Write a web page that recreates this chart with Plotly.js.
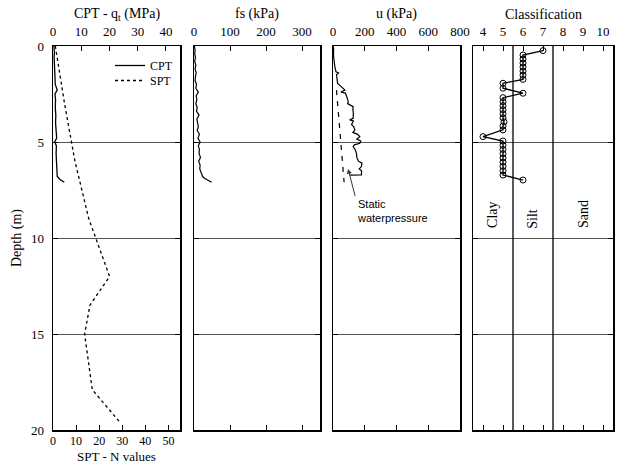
<!DOCTYPE html>
<html>
<head>
<meta charset="utf-8">
<script src="https://cdn.plot.ly/plotly-3.0.1.min.js"></script>
<style>html,body{margin:0;padding:0;background:#fff}#chart{width:618px;height:463px}</style>
</head>
<body>
<div id="chart"></div>
<script>
// ---- data ----
const cptDepth = [0.0,0.3,0.6,1.0,1.3,1.6,2.0,2.3,2.5,2.8,3.2,3.6,4.0,4.4,4.8,5.0,5.2,5.6,6.0,6.4,6.8,6.95,7.05,7.1];
const cptQt    = [0.3,0.5,0.4,0.6,0.5,0.7,0.8,1.5,0.7,0.9,0.8,1.0,0.9,1.1,1.3,0.6,1.2,1.1,1.2,1.3,1.5,2.5,3.6,4.0];

const sptDepth = [0.0,3.0,6.0,9.0,12.0,13.5,15.0,16.5,17.9,19.6];
const sptN     = [1.0,5.0,9.5,15.5,24.5,16.0,13.7,15.5,17.0,29.0];

const fsDepth = [0.0,0.2,0.4,0.6,0.8,1.0,1.2,1.4,1.6,1.8,2.0,2.2,2.4,2.6,2.8,3.0,3.2,3.4,3.6,3.8,4.0,4.2,4.4,4.6,4.8,5.0,5.2,5.4,5.6,5.8,6.0,6.2,6.4,6.6,6.8,6.9,7.0,7.1];
const fsVal   = [1,3,2,4,2,5,3,6,4,3,7,5,12,6,8,5,9,7,14,8,10,12,9,15,11,17,12,15,14,18,13,17,16,19,24,30,38,49];

const uDepth = [0.0,0.12,0.5,0.9,1.1,1.34,1.4,1.5,1.95,2.1,2.3,2.4,2.45,2.6,2.9,3.0,3.16,3.3,3.5,3.77,3.85,3.9,4.1,4.2,4.38,4.5,4.6,4.72,4.85,4.95,5.07,5.15,5.24,5.4,5.6,5.8,6.0,6.1,6.28,6.4,6.5,6.72,6.73];
const uVal   = [0,4,3,8,12,19,35,22,29,50,75,50,78,85,96,92,127,125,128,127,105,128,117,130,138,125,155,169,150,175,169,135,127,140,148,150,160,182,179,165,180,179,106];

const staticDepth = [2.3,7.1];
const staticU     = [22,70];

const classDepth = [0.24,0.47,0.68,0.89,1.10,1.31,1.52,1.74,1.94,2.20,2.46,2.69,2.90,3.11,3.32,3.53,3.74,3.95,4.16,4.37,4.72,4.95,5.17,5.39,5.61,5.83,6.05,6.27,6.50,6.72,6.98];
const classVal   = [7.0,6.0,6.0,6.0,6.0,6.0,6.0,6.0,5.0,5.0,6.0,5.0,5.0,5.0,5.0,5.0,5.0,5.05,5.0,5.0,4.0,5.0,5.0,5.0,5.0,5.0,5.0,5.0,5.0,5.0,6.0];
const classBounds = [5.5,7.5];
const classNames = ['Clay','Silt','Sand'];
const classNamePos = [4.5,6.5,9.0];
const depthRange = [0,20];

// ---- traces ----
const blk = '#000';
const traces = [
  {x:cptQt, y:cptDepth, xaxis:'x', yaxis:'y', mode:'lines', name:'CPT', legend:'legend', line:{color:blk,width:1.3}},
  {x:sptN, y:sptDepth, xaxis:'x5', yaxis:'y', mode:'lines', name:'SPT', legend:'legend2', line:{color:blk,width:1.3,dash:'3px,3px'}},
  {x:fsVal, y:fsDepth, xaxis:'x2', yaxis:'y2', mode:'lines', showlegend:false, line:{color:blk,width:1.2}},
  {x:uVal, y:uDepth, xaxis:'x3', yaxis:'y3', mode:'lines', showlegend:false, line:{color:blk,width:1.2}},
  {x:staticU, y:staticDepth, xaxis:'x3', yaxis:'y3', mode:'lines', showlegend:false, line:{color:blk,width:1.2,dash:'5px,6px'}},
  {x:classVal, y:classDepth, xaxis:'x4', yaxis:'y4', mode:'lines+markers', showlegend:false,
   line:{color:blk,width:1.3}, marker:{symbol:'circle-open',size:6,color:blk,line:{width:1}}}
];
classBounds.forEach(b => traces.push({x:[b,b], y:depthRange, xaxis:'x4', yaxis:'y4', mode:'lines', showlegend:false, line:{color:blk,width:1.3}}));

// ---- layout ----
const serif = 'Liberation Serif, Times New Roman, serif';
const L = 53, R = 613, T = 46, B = 430;
const W = R - L, H = B - T;
const px = v => (v - L) / W;
const py = v => (B - v) / H;

function xax(dom, range, dtick, tick0, side, extra) {
  return Object.assign({
    domain: dom, range: range, dtick: dtick, tick0: tick0, side: side,
    ticks: 'inside', ticklen: 5, tickwidth: 1, tickcolor: blk,
    showline: true, linecolor: blk, linewidth: 1.5, mirror: 'ticks',
    showgrid: false, zeroline: false, automargin: false,
    tickfont: {family: serif, size: 13, color: blk}, ticklabelstandoff: 3
  }, extra || {});
}
function yax(anchor, labels) {
  return {
    anchor: anchor, domain: [0,1], range: [depthRange[1], depthRange[0]], dtick: 5, tick0: 0,
    ticks: 'inside', ticklen: 5, tickwidth: 1, tickcolor: blk,
    showline: true, linecolor: blk, linewidth: 1.5, mirror: 'ticks',
    showgrid: true, gridcolor: '#555', gridwidth: 1, zeroline: false, automargin: false,
    showticklabels: labels, tickfont: {family: serif, size: 13, color: blk}, ticklabelstandoff: 5
  };
}
function leg(yTop) {
  return {x: px(110), y: py(yTop), xanchor: 'left', yanchor: 'top', bgcolor: 'rgba(0,0,0,0)',
          font: {family: serif, size: 12, color: blk}, tracegroupgap: 0};
}
function ann(x, y, text, extra) {
  return Object.assign({xref:'paper', yref:'paper', x: x, y: y, xanchor:'center', yanchor:'middle',
    text: text, showarrow: false, borderpad: 0, font:{family: serif, size: 14, color: blk}}, extra || {});
}

const layout = {
  width: 618, height: 463,
  margin: {l: L, r: 618 - R, t: T, b: 463 - B, pad: 0},
  paper_bgcolor: '#fff', plot_bgcolor: '#fff',
  font: {family: serif, size: 13, color: blk},
  showlegend: true,
  legend: leg(51),
  legend2: leg(66),
  xaxis:  xax([px(53), px(180)], [0,45], 10, 0, 'top', {anchor: 'y', mirror: true}),
  xaxis5: xax([px(53), px(180)], [0,55], 10, 0, 'bottom', {anchor: 'y', overlaying: 'x', mirror: false, ticklabelstandoff: -1,
           tickfont: {family: serif, size: 12, color: blk}}),
  xaxis2: xax([px(194), px(320)], [0,350], 100, 0, 'top', {anchor: 'y2'}),
  xaxis3: xax([px(333), px(460)], [0,800], 200, 0, 'top', {anchor: 'y3'}),
  xaxis4: xax([px(473), px(613)], [3.5,10.5], 1, 4, 'top', {anchor: 'y4'}),
  yaxis:  yax('x', true),
  yaxis2: yax('x2', false),
  yaxis3: yax('x3', false),
  yaxis4: yax('x4', false),
  annotations: [
    ann(px(116.5), py(14), 'CPT - q<sub>t</sub> (MPa)'),
    ann(px(257), py(14), 'fs (kPa)'),
    ann(px(396.5), py(14), 'u (kPa)'),
    ann(px(543), py(14), 'Classification'),
    ann(px(116.5), py(456), 'SPT - N values', {font: {family: serif, size: 13, color: blk}}),
    ann(px(17), 0.5, 'Depth (m)', {textangle: -90}),
    {xref:'x3', yref:'y3', x: 95, y: 6.4, text:'Static<br>waterpressure', align:'left', xanchor:'left', yanchor:'top',
     showarrow:true, ax: 7, ay: 27, arrowhead: 2, arrowsize: 1, arrowwidth: 1, arrowcolor: '#333',
     font:{family:'Liberation Sans, Arial, sans-serif', size:11, color: blk}}
  ].concat(classNames.map((n, i) => ({
    xref:'x4', yref:'y4', x: classNamePos[i], y: [8.8, 9.0, 8.75][i], xanchor:'center', yanchor:'middle',
    text: n, textangle: -90, showarrow: false, font:{family: serif, size: 14, color: blk}
  })))
};

Plotly.newPlot('chart', traces, layout, {staticPlot: true, displayModeBar: false});
</script>
</body>
</html>
